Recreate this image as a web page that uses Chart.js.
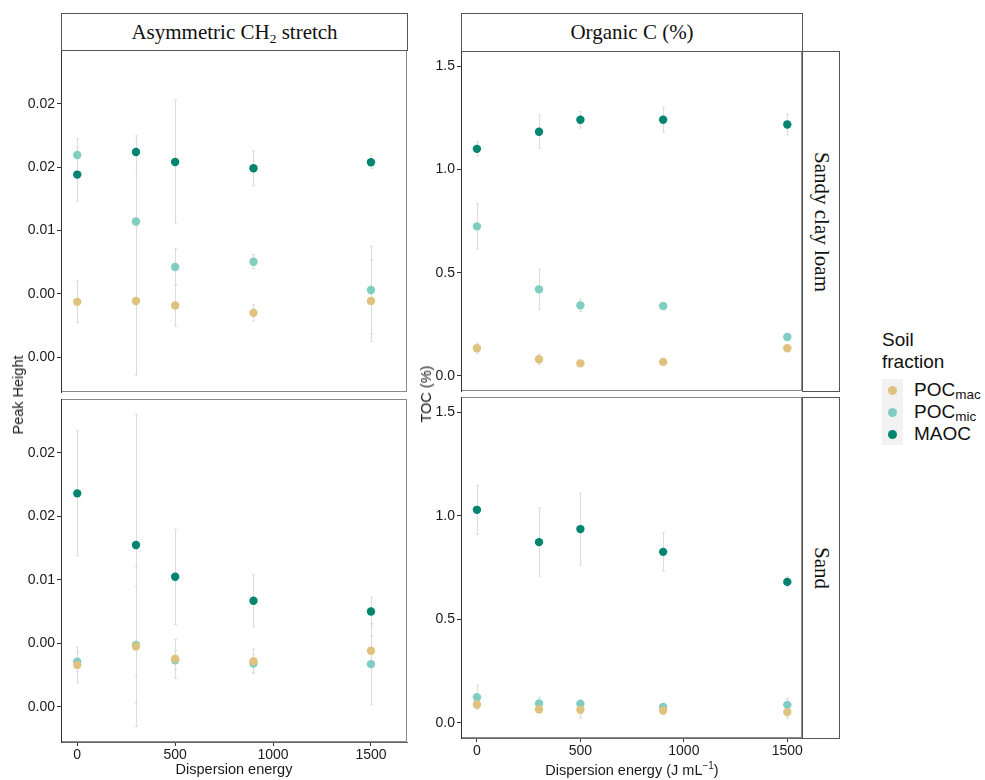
<!DOCTYPE html>
<html>
<head>
<meta charset="utf-8">
<script src="https://cdn.jsdelivr.net/npm/chart.js@4.4.1/dist/chart.umd.min.js"></script>
<style>
  body { margin: 0; background: #fff; width: 985px; height: 780px; position: relative; overflow: hidden;
         font-family: "Liberation Sans", Arial, sans-serif; color: #1a1a1a; }
  canvas { position: absolute; }
  .strip { position: absolute; box-sizing: border-box; border: 1px solid #555; background: #fff;
           font-family: "Liberation Serif", "Times New Roman", serif; font-size: 21px; color: #111;
           display: flex; align-items: center; justify-content: center; }
  .strip sub { font-size: 13.5px; vertical-align: -4px; line-height: 0; }
  .strip.side span { writing-mode: vertical-rl; font-size: 21px; }
  .title { position: absolute; font-size: 14.5px; color: #1a1a1a; white-space: nowrap; }
  .title sup { font-size: 10px; vertical-align: 6px; line-height: 0; }
  .ytitle { transform-origin: center; transform: translate(-50%, -50%) rotate(-90deg); }
  .xtitle { transform: translate(-50%, -50%); }
  #legend { position: absolute; left: 882px; top: 326px; font-size: 19px; color: #111; }
  #legend .head { line-height: 22px; position: relative; top: 3px; }
  #legend .keys { position: absolute; left: 0; top: 53px; width: 21px; height: 66px; background: #f2f2f2; }
  #legend .item { position: absolute; left: 32px; white-space: nowrap; line-height: 20px; }
  #legend .item sub { font-size: 13.5px; vertical-align: -3px; line-height: 0; }
  #legend .dot { position: absolute; left: 6px; width: 9px; height: 9px; border-radius: 50%; }
</style>
</head>
<body>

<canvas id="lt" width="412" height="357" style="left:0px; top:40px;"></canvas>
<canvas id="lb" width="412" height="391" style="left:0px; top:389px;"></canvas>
<canvas id="rt" width="392" height="355" style="left:415px; top:41px;"></canvas>
<canvas id="rb" width="392" height="393" style="left:415px; top:387px;"></canvas>

<div class="strip" style="left:61px; top:13px; width:347px; height:38px;"><span>Asymmetric CH<sub>2</sub> stretch</span></div>
<div class="strip" style="left:461px; top:13px; width:342px; height:39px;"><span>Organic C (%)</span></div>
<div class="strip side" style="left:802px; top:51px; width:38px; height:341px;"><span>Sandy clay loam</span></div>
<div class="strip side" style="left:802px; top:397px; width:38px; height:342px;"><span>Sand</span></div>

<div class="title ytitle" style="left:18px; top:395px;">Peak Height</div>
<div class="title ytitle" style="left:426px; top:394px;">TOC (%)</div>
<div class="title xtitle" style="left:234px; top:769px;">Dispersion energy</div>
<div class="title xtitle" style="left:632px; top:770px;">Dispersion energy (J mL<sup>&minus;1</sup>)</div>

<div id="legend">
  <div class="head">Soil<br>fraction</div>
  <div class="keys"></div>
  <div class="dot" style="top:60px; background:#dfc27d;"></div>
  <div class="dot" style="top:82px; background:#80cdc1;"></div>
  <div class="dot" style="top:104px; background:#018571;"></div>
  <div class="item" style="top:54px;">POC<sub>mac</sub></div>
  <div class="item" style="top:76px;">POC<sub>mic</sub></div>
  <div class="item" style="top:98px;">MAOC</div>
</div>

<script>
// x: dispersion energy (J/mL)
const energy = [0, 300, 500, 900, 1500];
const xTicks = [0, 500, 1000, 1500];

// tick values and the (rounded) labels printed on the left panels
const ch2Ticks = [0, 0.005, 0.01, 0.015, 0.02];
const ch2TickLabels = ['0.00', '0.00', '0.01', '0.02', '0.02'];
const tocTicks = [0, 0.5, 1.0, 1.5];
const tocTickLabels = ['0.0', '0.5', '1.0', '1.5'];

const fractions = ['POCmac', 'POCmic', 'MAOC'];
const fractionColors = ['#dfc27d', '#80cdc1', '#018571'];

// Asymmetric CH2 stretch - Sandy clay loam
const ch2SclMac = [0.00436, 0.00443, 0.00407, 0.00349, 0.00443];
const ch2SclMacErr = [0.00164, 0.0059, 0.00163, 0.00064, 0.0032];
const ch2SclMic = [0.01596, 0.01071, 0.00711, 0.00753, 0.0053];
const ch2SclMicErr = [0.0013, 0.0065, 0.00145, 0.00056, 0.00346];
const ch2SclMaoc = [0.01441, 0.0162, 0.01541, 0.01491, 0.01538];
const ch2SclMaocErr = [0.0021, 0.00127, 0.00488, 0.00138, 0.0005];

// Asymmetric CH2 stretch - Sand
const ch2SandMac = [0.00331, 0.00476, 0.00379, 0.0036, 0.00442];
const ch2SandMacErr = [0.0014, 0.0063, 0.00154, 0.00095, 0.0012];
const ch2SandMic = [0.00357, 0.00489, 0.00368, 0.00342, 0.00337];
const ch2SandMicErr = [0.0008, 0.0046, 0.00076, 0.0007, 0.0032];
const ch2SandMaoc = [0.01682, 0.01275, 0.01025, 0.00836, 0.00752];
const ch2SandMaocErr = [0.00493, 0.0103, 0.00375, 0.00205, 0.00113];

// Organic C (%) - Sandy clay loam
const tocSclMac = [0.134, 0.081, 0.061, 0.068, 0.134];
const tocSclMacErr = [0.025, 0.025, 0.012, 0.012, 0.012];
const tocSclMic = [0.7245, 0.4195, 0.342, 0.339, 0.189];
const tocSclMicErr = [0.11, 0.098, 0.03, 0.015, 0.012];
const tocSclMaoc = [1.100, 1.183, 1.241, 1.241, 1.218];
const tocSclMaocErr = [0.034, 0.081, 0.04, 0.06, 0.05];

// Organic C (%) - Sand
const tocSandMac = [0.089, 0.066, 0.063, 0.06, 0.052];
const tocSandMacErr = [0.02, 0.02, 0.04, 0.02, 0.03];
const tocSandMic = [0.124, 0.094, 0.092, 0.077, 0.087];
const tocSandMicErr = [0.058, 0.03, 0.02, 0.015, 0.03];
const tocSandMaoc = [1.029, 0.873, 0.936, 0.826, 0.681];
const tocSandMaocErr = [0.118, 0.164, 0.173, 0.093, 0.025];

// error bars drawn under the points, using the chart's own scales
const errorBars = {
  id: 'errorBars',
  beforeDatasetsDraw(chart) {
    const { ctx, scales: { x, y } } = chart;
    ctx.save();
    ctx.strokeStyle = '#dcdcdc';
    ctx.lineWidth = 1;
    chart.data.datasets.forEach(ds => {
      ds.data.forEach((p, i) => {
        const e = ds.err[i];
        const px = Math.round(x.getPixelForValue(p.x)) + 0.5;
        const y0 = y.getPixelForValue(p.y - e);
        const y1 = y.getPixelForValue(p.y + e);
        ctx.beginPath();
        ctx.moveTo(px, y0); ctx.lineTo(px, y1);
        ctx.moveTo(px - 1.5, y0); ctx.lineTo(px + 1.5, y0);
        ctx.moveTo(px - 1.5, y1); ctx.lineTo(px + 1.5, y1);
        ctx.stroke();
      });
    });
    ctx.restore();
  }
};

// panel border (ggplot-like box)
const panelFrame = {
  id: 'panelFrame',
  afterDraw(chart) {
    const { ctx, chartArea: a } = chart;
    ctx.save();
    ctx.strokeStyle = '#8a8a8a';
    ctx.lineWidth = 1;
    ctx.strokeRect(Math.round(a.left) + 0.5, Math.round(a.top) + 0.5,
                   Math.round(a.right - a.left) - 1, Math.round(a.bottom - a.top) - 1);
    ctx.strokeStyle = '#333';
    ctx.beginPath();
    ctx.moveTo(Math.round(a.left) + 0.5, a.top);
    ctx.lineTo(Math.round(a.left) + 0.5, a.bottom);
    ctx.stroke();
    ctx.restore();
  }
};

function makeSets(series, errs) {
  return series.map((vals, k) => ({
    label: fractions[k],
    data: energy.map((e, i) => ({ x: e, y: vals[i] })),
    err: errs[k],
    backgroundColor: fractionColors[k],
    borderWidth: 0,
    pointRadius: 4.2,
    pointHoverRadius: 4.2
  }));
}

function makePanel(id, series, errs, cfg) {
  new Chart(document.getElementById(id), {
    type: 'scatter',
    data: { datasets: makeSets(series, errs) },
    options: {
      responsive: false,
      animation: false,
      layout: { padding: { top: 10, right: 5, bottom: cfg.showX ? 0 : 5, left: 0 } },
      plugins: { legend: { display: false }, tooltip: { enabled: false } },
      scales: {
        x: {
          type: 'linear',
          min: cfg.xMin, max: cfg.xMax,
          display: cfg.showX,
          afterBuildTicks: s => { s.ticks = xTicks.map(v => ({ value: v })); },
          afterFit: s => { s.height = cfg.xHeight || 0; s.paddingLeft = 0; s.paddingRight = 0; },
          grid: { display: true, drawOnChartArea: false, drawTicks: true, tickLength: 4, color: '#333' },
          border: { display: true, color: '#666', width: 1 },
          ticks: { font: { size: 14, family: 'Liberation Sans' }, color: '#1a1a1a', padding: 1, maxRotation: 0,
                   callback: v => String(v) }
        },
        y: {
          type: 'linear',
          min: cfg.yMin, max: cfg.yMax,
          afterBuildTicks: s => { s.ticks = cfg.yTicks.map(v => ({ value: v })); },
          afterFit: s => { s.width = cfg.yWidth; s.paddingTop = 0; s.paddingBottom = 0; },
          grid: { display: true, drawOnChartArea: false, drawTicks: true, tickLength: 4, color: '#333' },
          border: { display: true, color: '#333', width: 1 },
          ticks: {
            font: { size: 14, family: 'Liberation Sans' }, color: '#1a1a1a', padding: 2,
            callback: (v, i) => cfg.yLabels[i]
          }
        }
      }
    },
    plugins: [errorBars, panelFrame]
  });
}

const leftCfg = { xMin: -83, xMax: 1684, yMin: -0.00276, yMax: 0.02425,
                  yTicks: ch2Ticks, yLabels: ch2TickLabels, yWidth: 61 };
const rightCfg = { xMin: -77, xMax: 1571, yMin: -0.073, yMax: 1.574,
                   yTicks: tocTicks, yLabels: tocTickLabels, yWidth: 46 };

makePanel('lt', [ch2SclMac, ch2SclMic, ch2SclMaoc], [ch2SclMacErr, ch2SclMicErr, ch2SclMaocErr],
          Object.assign({}, leftCfg, { showX: false }));
makePanel('lb', [ch2SandMac, ch2SandMic, ch2SandMaoc], [ch2SandMacErr, ch2SandMicErr, ch2SandMaocErr],
          Object.assign({}, leftCfg, { showX: true, xHeight: 38 }));
makePanel('rt', [tocSclMac, tocSclMic, tocSclMaoc], [tocSclMacErr, tocSclMicErr, tocSclMaocErr],
          Object.assign({}, rightCfg, { showX: false }));
makePanel('rb', [tocSandMac, tocSandMic, tocSandMaoc], [tocSandMacErr, tocSandMicErr, tocSandMaocErr],
          Object.assign({}, rightCfg, { showX: true, xHeight: 42 }));
</script>
</body>
</html>
